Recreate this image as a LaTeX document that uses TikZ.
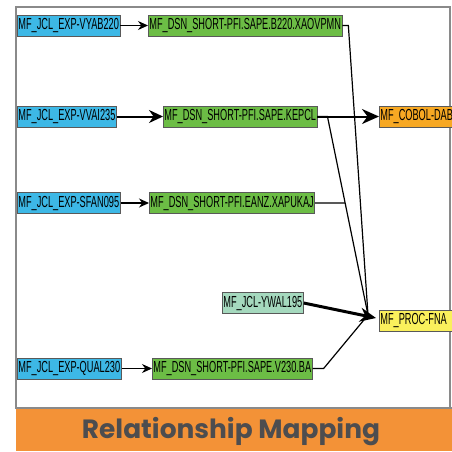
\documentclass[tikz,border=0pt]{standalone}
\usepackage{fontspec}
\usepackage{tikz}
\usetikzlibrary{arrows.meta,positioning,calc}

\newfontfamily\boxfont[FakeStretch=0.575]{Liberation Sans}
\newfontfamily\titlefont{Poppins}

\definecolor{jclblue}{HTML}{3DB8E6}
\definecolor{dsngreen}{HTML}{6CBD45}
\definecolor{cobolorange}{HTML}{F7A823}
\definecolor{procyellow}{HTML}{FAF05C}
\definecolor{srcmint}{HTML}{A5D9BE}
\definecolor{bandorange}{HTML}{F39237}
\definecolor{framegray}{HTML}{8A8A8A}
\definecolor{titlegray}{HTML}{4D4D4F}

\begin{document}
\begin{tikzpicture}[
        x=1pt, y=-1pt,
        every node/.style={anchor=west, inner xsep=1pt, inner ysep=0pt, minimum height=21pt,
            font=\boxfont\fontsize{16}{16}\selectfont, draw=black!65, line width=0.8pt},
        jclbox/.style={fill=jclblue},
        dsnbox/.style={fill=dsngreen},
        cobolbox/.style={fill=cobolorange, minimum width=80pt, align=left, text width=78pt},
        procbox/.style={fill=procyellow, minimum width=80pt, align=left, text width=78pt},
        srcbox/.style={fill=srcmint},
        link/.style={line width=1.2pt, -{Stealth[length=10pt,width=9pt]}},
        biglink/.style={line width=2pt, -{Stealth[length=14pt,width=13pt]}},
        feed/.style={line width=1.2pt}
    ]
    \clip (0,0) rectangle (452,451);

    % Frame and title band
    \draw[framegray, line width=2pt] (16,7) rectangle (450,408);
    \fill[bandorange] (16,408) rectangle (452,451);
    \draw[framegray, line width=1.2pt] (16,408) -- (452,408);
    \node[draw=none, anchor=base, inner sep=0pt, minimum height=0pt, text=titlegray]
        (title) at (231,438) {\resizebox{298pt}{!}{\titlefont\bfseries Relationship Mapping}};

    % Nodes
    \node[jclbox] (jcl1) at (17,25.5) {MF\_JCL\_EXP-VYAB220};
    \node[jclbox] (jcl2) at (17,116.5) {MF\_JCL\_EXP-VVAI235};
    \node[jclbox] (jcl3) at (17,203) {MF\_JCL\_EXP-SFAN095};
    \node[jclbox] (jcl4) at (17,368.5) {MF\_JCL\_EXP-QUAL230};

    \node[dsnbox] (dsn1) at (148,25.5) {MF\_DSN\_SHORT-PFI.SAPE.B220.XAOVPMN};
    \node[dsnbox] (dsn2) at (163,116.5) {MF\_DSN\_SHORT-PFI.SAPE.KEPCL};
    \node[dsnbox] (dsn3) at (149,203) {MF\_DSN\_SHORT-PFI.EANZ.XAPUKAJ};
    \node[dsnbox] (dsn4) at (152,368.5) {MF\_DSN\_SHORT-PFI.SAPE.V230.BA};

    \node[srcbox] (ywal) at (222,303) {MF\_JCL-YWAL195};
    \node[cobolbox] (cobol) at (379,116.5) {MF\_COBOL-DAB};
    \node[procbox] (proc) at (379,320.5) {MF\_PROC-FNA};

    % Meeting points in front of the proc box
    \coordinate (tip) at (376,318);
    \coordinate (pin) at (368,315);
    \coordinate (k2) at ($(dsn2.east)+(10,0)$);
    \coordinate (k3) at ($(dsn3.east)+(60,0)$);
    \coordinate (j3) at (intersection of k2--pin and dsn3.east--k3);

    % Connectors
    \draw[link] (jcl1) -- (dsn1);
    \draw[biglink] (jcl2) -- (dsn2);
    \draw[link] (jcl3) -- (dsn3);
    \draw[link] (jcl4) -- (dsn4);

    \draw[biglink, -{Stealth[length=17pt,width=15pt]}] (dsn2) -- (cobol);

    \draw[feed] (dsn1.east) -- ++(6,0) -- (pin);
    \draw[feed] (dsn2.east) -- (k2) -- (pin);
    \draw[feed] (dsn3.east) -- (j3);
    \draw[feed] (dsn4.east) -- ++(11,0) -- (pin);
    \draw[line width=3pt, -{Stealth[length=16pt,width=14pt]}] (ywal.east) -- (tip);

\end{tikzpicture}
\end{document}
